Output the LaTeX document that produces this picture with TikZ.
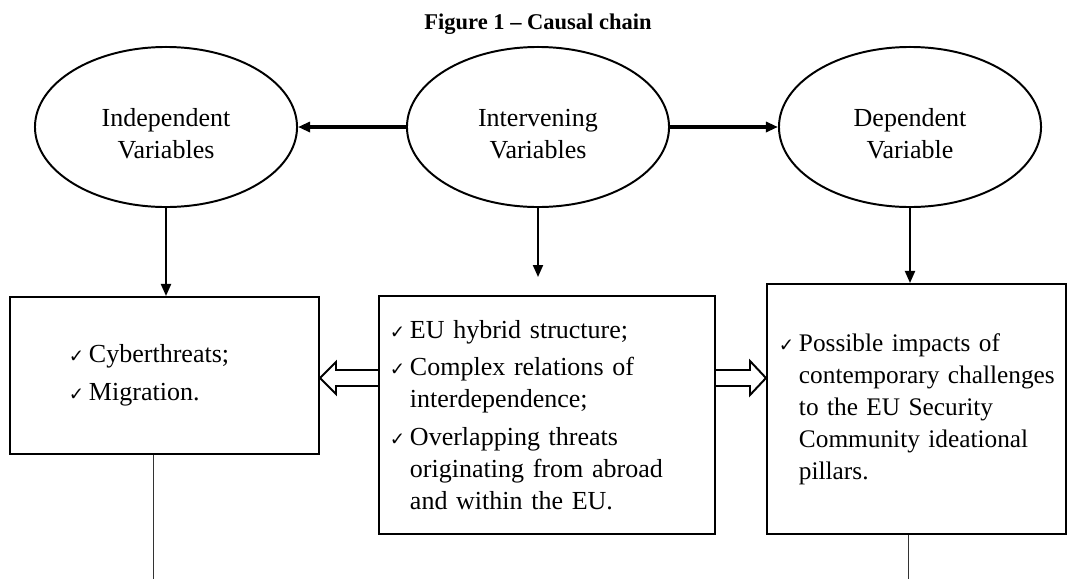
\documentclass[tikz,border=0pt]{standalone}
\usepackage{fontspec}
\setmainfont{Liberation Serif}
\newfontfamily\tickfont{DejaVu Sans}
\usetikzlibrary{arrows.meta, shapes.geometric}

\newcommand{\tck}{\makebox[0.5cm][l]{\tickfont\fontsize{13}{13}\selectfont ✓}}
\newcommand{\ind}{\hspace*{0.5cm}}
\newcommand{\lift}{\rule{0pt}{22pt}}

\begin{document}
\begin{tikzpicture}[x = 0.025cm, y = -0.025cm,
    every node/.style = {font = \fontsize{18.5}{22.8}\selectfont},
    var/.style = {ellipse, draw, line width = 1.4pt, minimum width = 6.55cm,
        minimum height = 4cm, align = center},
    box/.style = {rectangle, draw, line width = 1.4pt, align = left, inner ysep = 0pt},
    link/.style = {-{Triangle[length = 0.3cm, width = 0.25cm]}, line width = 1.4pt},
    hollow/.style = {draw, line width = 1.4pt, line join = miter}]
    \useasboundingbox (0,0) rectangle (1070,579);

    \node[font = \fontsize{16}{19}\selectfont\bfseries] (title) at (538,24) {Figure 1 -- Causal chain};

    % variables
    \node[var] (indep) at (166,127) {\lift Independent\\Variables};
    \node[var] (interv) at (538,127) {\lift Intervening\\Variables};
    \node[var] (dep) at (910,127) {\lift Dependent\\Variable};

    % contents
    \node[box, minimum height = 3.925cm, text width = 4.775cm, inner xsep = 1.475cm]
        (threats) at (164.5,375.5)
        {\tck Cyberthreats;\\[4pt]\tck Migration.};
    \node[box, minimum height = 5.95cm, text width = 7.85cm, inner xsep = 0.275cm]
        (factors) at (547,415)
        {\tck EU hybrid structure;\\[4pt]
         \tck Complex relations of\\ \ind interdependence;\\[4pt]
         \tck Overlapping threats\\ \ind originating from abroad\\ \ind and within the EU.};
    \node[box, minimum height = 6.25cm, text width = 6.875cm, inner xsep = 0.3cm,
        font = \fontsize{18}{22.8}\selectfont]
        (impacts) at (916.5,409)
        {\tck Possible impacts of\\ \ind\mbox{contemporary challenges}\\ \ind to the EU Security\\
         \ind\mbox{Community ideational}\\ \ind pillars.};

    \coordinate (interv end) at (538,277);
    \coordinate (threats end) at (153,579);
    \coordinate (impacts end) at (908,579);

    \draw[link, line width = 2.2pt] (interv) -- (indep);
    \draw[link, line width = 2.2pt] (interv) -- (dep);
    \draw[link] (indep.south) -- (indep.south |- threats.north);
    \draw[link] (interv.south) -- (interv end);
    \draw[link] (dep.south) -- (dep.south |- impacts.north);

    \draw[hollow] (factors.west |- 0,370) -- (336,370) -- (336,362) -- (threats.east |- 0,378)
        -- (336,394) -- (336,386) -- (factors.west |- 0,386);
    \draw[hollow] (factors.east |- 0,370) -- (750,370) -- (750,361) -- (impacts.west |- 0,378)
        -- (750,395) -- (750,386) -- (factors.east |- 0,386);

    \draw[line width = 0.6pt, black!80] (threats.south -| threats end) -- (threats end);
    \draw[line width = 0.6pt, black!80] (impacts.south -| impacts end) -- (impacts end);
\end{tikzpicture}
\end{document}
